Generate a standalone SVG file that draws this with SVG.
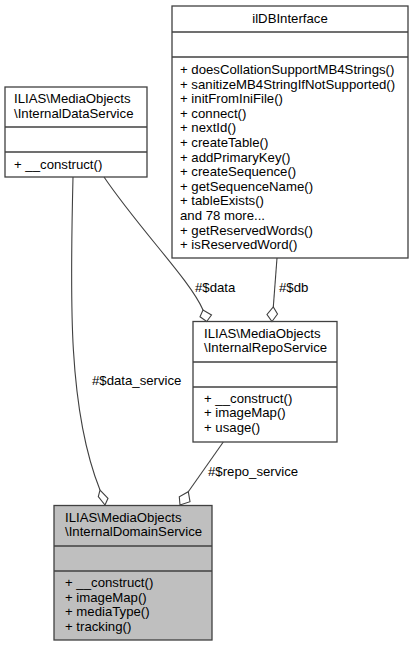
<svg xmlns="http://www.w3.org/2000/svg" width="413" height="647" viewBox="0 0 413 647">
<style>
.box{fill:#ffffff;stroke:#404040;stroke-width:1.3}
.cur{fill:#bfbfbf;stroke:#404040;stroke-width:1.3}
.div{stroke:#404040;stroke-width:1.3;fill:none}
text{font-family:"Liberation Sans",Arial,sans-serif;font-size:13.2px;fill:#000000}
.mid{text-anchor:middle}
.edge{fill:none;stroke:#404040;stroke-width:1.1}
.dia{fill:#ffffff;stroke:#404040;stroke-width:1.1}
</style>
<rect width="413" height="647" fill="#ffffff"/>
<g id="node-ilDBInterface">
<rect class="box" x="172" y="6" width="236" height="252"/>
<line class="div" x1="172" y1="32" x2="408" y2="32"/>
<line class="div" x1="172" y1="57" x2="408" y2="57"/>
<text class="mid" x="290" y="23">ilDBInterface</text>
<text x="180" y="74">+ doesCollationSupportMB4Strings()</text>
<text x="180" y="88.6">+ sanitizeMB4StringIfNotSupported()</text>
<text x="180" y="103.2">+ initFromIniFile()</text>
<text x="180" y="117.8">+ connect()</text>
<text x="180" y="132.4">+ nextId()</text>
<text x="180" y="147">+ createTable()</text>
<text x="180" y="161.6">+ addPrimaryKey()</text>
<text x="180" y="176.2">+ createSequence()</text>
<text x="180" y="190.8">+ getSequenceName()</text>
<text x="180" y="205.4">+ tableExists()</text>
<text x="180" y="220">and 78 more...</text>
<text x="180" y="234.6">+ getReservedWords()</text>
<text x="180" y="249.2">+ isReservedWord()</text>
</g>
<g id="node-InternalDataService">
<rect class="box" x="5" y="87" width="142" height="90"/>
<line class="div" x1="5" y1="127" x2="147" y2="127"/>
<line class="div" x1="5" y1="152" x2="147" y2="152"/>
<text x="14" y="103">ILIAS\MediaObjects</text>
<text x="14" y="117.5">\InternalDataService</text>
<text x="14" y="169">+ __construct()</text>
</g>
<g id="node-InternalRepoService">
<rect class="box" x="193" y="321.5" width="144" height="120.5"/>
<line class="div" x1="193" y1="362" x2="337" y2="362"/>
<line class="div" x1="193" y1="387" x2="337" y2="387"/>
<text x="204" y="337.5">ILIAS\MediaObjects</text>
<text x="204" y="352">\InternalRepoService</text>
<text x="204" y="402.5">+ __construct()</text>
<text x="204" y="417">+ imageMap()</text>
<text x="204" y="431.5">+ usage()</text>
</g>
<g id="node-InternalDomainService">
<rect class="cur" x="54" y="505.5" width="158" height="134.5"/>
<line class="div" x1="54" y1="546" x2="212" y2="546"/>
<line class="div" x1="54" y1="571" x2="212" y2="571"/>
<text x="65" y="521.5">ILIAS\MediaObjects</text>
<text x="65" y="536">\InternalDomainService</text>
<text x="65" y="587">+ __construct()</text>
<text x="65" y="601.5">+ imageMap()</text>
<text x="65" y="616">+ mediaType()</text>
<text x="65" y="630.5">+ tracking()</text>
</g>
<g id="connectors">
<path class="edge" d="M73,177 C70,300 68,410 100,490"/>
<polygon class="dia" points="105,505 108,498.3 100,490 98.3,496.7"/>
<text x="92" y="385">#$data_service</text>
<path class="edge" d="M104,177 C140,230 190,280 203,310"/>
<polygon class="dia" points="206.7,321.5 211.5,315 203,310 200,316.7"/>
<text x="195" y="292">#$data</text>
<path class="edge" d="M277,258 L273.3,307"/>
<polygon class="dia" points="272,321.5 277.5,314 273.3,307 267,314.5"/>
<text x="279" y="292">#$db</text>
<path class="edge" d="M223.3,442 L188.3,491.7"/>
<polygon class="dia" points="180,505 190,501.7 188.3,491.7 179.3,496.7"/>
<text x="208" y="476">#$repo_service</text>
</g>
</svg>
